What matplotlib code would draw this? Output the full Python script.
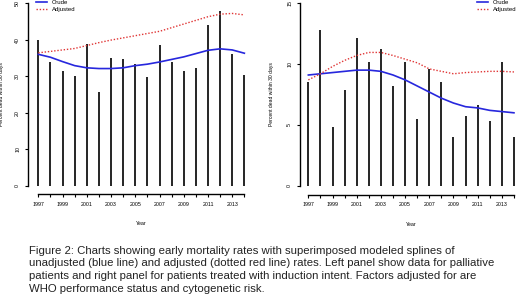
import numpy as np
import matplotlib
matplotlib.use("Agg")
import matplotlib.pyplot as plt

matplotlib.rcParams['font.family'] = ['Liberation Sans', 'DejaVu Sans']

years = np.arange(1997, 2015)
year_ticks = np.arange(1997, 2015, 2)

# left panel: palliative patients
pall_rate = [39.9, 34.0, 31.4, 30.0, 38.7, 25.7, 34.9, 34.6, 33.3, 29.7,
             38.5, 34.0, 31.4, 32.2, 44.0, 47.9, 36.1, 30.4]
pall_crude = [36.0, 35.2, 34.0, 32.9, 32.3, 32.1, 32.1, 32.3, 32.9, 33.3,
              33.9, 34.6, 35.3, 36.2, 37.1, 37.5, 37.2, 36.3]
pall_adjusted = [36.4, 36.8, 37.2, 37.6, 38.4, 39.2, 39.9, 40.5, 41.1, 41.7,
                 42.3, 43.3, 44.3, 45.3, 46.3, 47.0, 47.2, 46.8]

# right panel: induction intent
ind_rate = [8.5, 12.8, 4.8, 7.9, 12.1, 10.2, 11.2, 8.2, 10.2, 5.5,
            9.6, 8.5, 4.0, 5.7, 6.6, 5.3, 10.2, 4.0]
ind_crude = [9.1, 9.2, 9.3, 9.4, 9.5, 9.5, 9.4, 9.1, 8.7, 8.2,
             7.7, 7.2, 6.8, 6.5, 6.4, 6.2, 6.1, 6.0]
ind_adjusted = [8.7, 9.2, 9.8, 10.3, 10.7, 10.95, 10.95, 10.7, 10.4, 10.1,
                9.6, 9.4, 9.2, 9.3, 9.35, 9.4, 9.4, 9.35]

caption_lines = [
    "Figure 2: Charts showing early mortality rates with superimposed modeled splines of",
    "unadjusted (blue line) and adjusted (dotted red line) rates. Left panel show data for palliative",
    "patients and right panel for patients treated with induction intent. Factors adjusted for are",
    "WHO performance status and cytogenetic risk.",
]

W, H = 520, 298


def px_axes(fig, left, right, top, bottom):
    return fig.add_axes([left / W, 1 - bottom / H, (right - left) / W, (bottom - top) / H])


def draw_panel(ax, rate, crude, adjusted, xlim, ylim, yticks, legend_x, label_dx):
    ax.vlines(years, 0, rate, color='black', lw=1.2)
    ax.plot(years, crude, color='#2727dd', lw=1.2, label='Crude')
    ax.plot(years, adjusted, color='#e03535', lw=1.0, ls=(0, (1, 1.3)), label='Adjusted')
    ax.set_xlim(*xlim)
    ax.set_ylim(*ylim)
    for s in ['top', 'right']:
        ax.spines[s].set_visible(False)
    ax.spines['left'].set_bounds(yticks[0], yticks[-1])
    ax.spines['bottom'].set_bounds(years[0], years[-1])
    for s in ['left', 'bottom']:
        ax.spines[s].set_linewidth(1.0)
    ax.set_yticks(yticks)
    ax.set_xticks(years, minor=True)
    ax.set_xticks(year_ticks)
    ax.tick_params(axis='both', which='both', direction='out', length=2.2, width=0.8, labelsize=3.8, color='black')
    ax.tick_params(axis='x', pad=3.2)
    ax.tick_params(axis='y', pad=3.5)
    for lab in ax.get_yticklabels():
        lab.set_rotation(90)
        lab.set_va('center')
    ax.set_ylabel('Percent dead within 30 days', fontsize=3.6)
    ax.set_xlabel('Year', fontsize=3.8)
    bbox = ax.get_position()
    wpx = bbox.width * W
    hpx = bbox.height * H
    yc = (0.5 * (yticks[0] + yticks[-1]) - ylim[0]) / (ylim[1] - ylim[0])
    ax.yaxis.set_label_coords(-label_dx / wpx, yc)
    xc = (0.5 * (years[0] + years[-1]) - xlim[0]) / (xlim[1] - xlim[0])
    ax.xaxis.set_label_coords(xc, -27 / hpx)
    ax.legend(loc='upper left', bbox_to_anchor=(legend_x / W, 1.0), bbox_transform=fig.transFigure,
              frameon=False, fontsize=4.3, handlelength=1.9, handletextpad=0.8,
              labelspacing=0.25, borderpad=0, borderaxespad=0)


fig = plt.figure(figsize=(W / 100, H / 100), dpi=100)

ax1 = px_axes(fig, 28, 252, 0, 194)
draw_panel(ax1, pall_rate, pall_crude, pall_adjusted,
           (1996.15, 2014.63), (-2.27, 50.88), [0, 10, 20, 30, 40, 50], 36, 24)

ax2 = px_axes(fig, 300, 520, 0, 195)
draw_panel(ax2, ind_rate, ind_crude, ind_adjusted,
           (1996.31, 2014.5), (-0.74, 15.25), [0, 5, 10, 15], 477, 26)

for i, line in enumerate(caption_lines):
    fig.text(29 / W, 1 - (250.5 + 12.8 * i) / H, line, fontsize=8.2, color='#222222', va='center', ha='left')

fig.savefig('out.png', dpi=100)
